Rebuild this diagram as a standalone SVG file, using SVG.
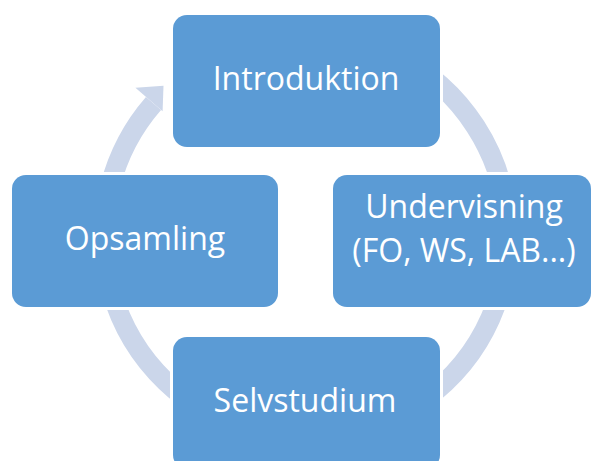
<svg xmlns="http://www.w3.org/2000/svg" width="592" height="461" viewBox="0 0 592 461">
  <style>
    .box { fill: #5b9bd5; stroke: #ffffff; stroke-width: 6; paint-order: stroke; }
    .lbl { fill: #ffffff; font-family: "Open Sans", "Noto Sans", sans-serif; font-size: 32px; text-anchor: middle; }
    .ring { fill: none; stroke: #cbd6ea; stroke-width: 20; }
    .head { fill: #cbd6ea; }
  </style>
  <rect width="592" height="461" fill="#ffffff"/>
  <g id="connectors">
    <path class="ring" d="M 205 61.1 A 202 202 0 1 1 153.5 103.5"/>
    <polygon class="head" points="135.4,87.7 163.5,85.8 162.6,111.3"/>
  </g>
  <g id="introduktion">
    <rect class="box" x="173" y="15" width="267" height="132" rx="14"/>
    <text class="lbl" x="306" y="90">Introduktion</text>
  </g>
  <g id="undervisning">
    <rect class="box" x="333" y="175" width="258" height="132" rx="14"/>
    <text class="lbl" x="464" y="218">Undervisning</text>
    <text class="lbl" x="464" y="262">(FO, WS, LAB...)</text>
  </g>
  <g id="selvstudium">
    <rect class="box" x="173" y="337" width="267" height="132" rx="14"/>
    <text class="lbl" x="305" y="412">Selvstudium</text>
  </g>
  <g id="opsamling">
    <rect class="box" x="12" y="175" width="266" height="132" rx="14"/>
    <text class="lbl" x="145" y="250">Opsamling</text>
  </g>
</svg>
